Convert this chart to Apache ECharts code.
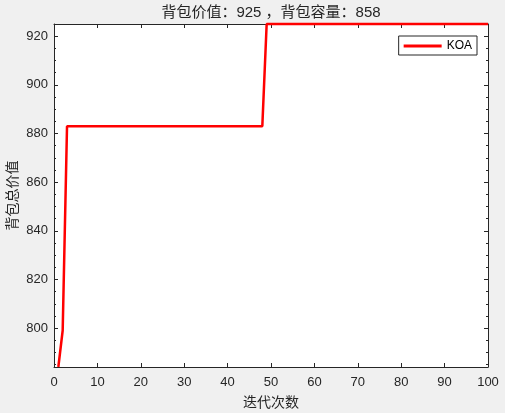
<!DOCTYPE html>
<html>
<head>
<meta charset="utf-8">
<script src="https://cdn.jsdelivr.net/npm/echarts@6/dist/echarts.min.js"></script>
<style>
html, body { margin: 0; padding: 0; background: #f0f0f0; }
#chart { width: 505px; height: 413px; }
</style>
</head>
<body>
<div id="chart"></div>
<script>
const titleText = '背包价值：925 ，背包容量：858';
const seriesName = 'KOA';
const xName = '迭代次数';
const yName = '背包总价值';

// best value per iteration (iterations 1..100)
const fitness = [
  784, 799, 883, 883, 883, 883, 883, 883, 883, 883,
  883, 883, 883, 883, 883, 883, 883, 883, 883, 883,
  883, 883, 883, 883, 883, 883, 883, 883, 883, 883,
  883, 883, 883, 883, 883, 883, 883, 883, 883, 883,
  883, 883, 883, 883, 883, 883, 883, 883, 925, 925,
  925, 925, 925, 925, 925, 925, 925, 925, 925, 925,
  925, 925, 925, 925, 925, 925, 925, 925, 925, 925,
  925, 925, 925, 925, 925, 925, 925, 925, 925, 925,
  925, 925, 925, 925, 925, 925, 925, 925, 925, 925,
  925, 925, 925, 925, 925, 925, 925, 925, 925, 925
];

const yTicks = [800, 820, 840, 860, 880, 900, 920];
const yMinorTicks = [785, 790, 795, 805, 810, 815, 825, 830, 835, 845, 850, 855,
  865, 870, 875, 885, 890, 895, 905, 910, 915];
const yMin = 784;
const yMax = 925;

const ink = '#262626';
const font = "'Liberation Sans', 'Noto Sans CJK SC', sans-serif";

function xAxisOf(pos, labels) {
  return {
    type: 'value', position: pos, min: 0, max: 100, interval: 10,
    axisLine: { show: true, lineStyle: { color: ink, width: 1 } },
    axisTick: { show: true, inside: true, length: 4, lineStyle: { color: ink } },
    axisLabel: { show: labels, margin: 9, color: ink, fontSize: 13, fontFamily: font },
    splitLine: { show: false }
  };
}

function yAxisOf(pos, ticks, len, line, labels) {
  return {
    type: 'value', position: pos, min: yMin, max: yMax,
    axisLine: { show: line, lineStyle: { color: ink, width: 1 } },
    axisTick: { show: true, inside: true, length: len, customValues: ticks, lineStyle: { color: ink } },
    axisLabel: { show: labels, customValues: yTicks, margin: 6, color: ink, fontSize: 13, fontFamily: font },
    splitLine: { show: false }
  };
}

const xBottom = xAxisOf('bottom', true);
xBottom.name = xName;
xBottom.nameLocation = 'middle';
xBottom.nameGap = 29;
xBottom.nameMoveOverlap = false;
xBottom.nameTextStyle = { color: ink, fontSize: 14, fontFamily: font };

const yLeft = yAxisOf('left', yTicks, 4, true, true);
yLeft.name = yName;
yLeft.nameLocation = 'middle';
yLeft.nameGap = 34;
yLeft.nameMoveOverlap = false;
yLeft.nameTextStyle = { color: ink, fontSize: 14, fontFamily: font };

const chart = echarts.init(document.getElementById('chart'));
chart.setOption({
  backgroundColor: '#f0f0f0',
  animation: false,
  title: {
    text: titleText, left: 271, top: 5, textAlign: 'center', padding: 0,
    textStyle: { color: ink, fontSize: 15, fontWeight: 'normal', fontFamily: font }
  },
  legend: {
    data: [{ name: seriesName, icon: 'rect' }],
    right: 28, top: 36,
    itemWidth: 38, itemHeight: 3, itemGap: 4,
    padding: [4, 5, 3, 5],
    backgroundColor: '#ffffff', borderColor: ink, borderWidth: 1, borderRadius: 0,
    textStyle: { color: '#000', fontSize: 12, fontFamily: font }
  },
  grid: {
    left: 54, right: 17, top: 24, bottom: 46,
    outerBoundsMode: 'none', containLabel: false,
    show: true, backgroundColor: '#ffffff', borderWidth: 0
  },
  xAxis: [xBottom, xAxisOf('top', false)],
  yAxis: [
    yLeft,
    yAxisOf('left', yMinorTicks, 2, false, false),
    yAxisOf('right', yTicks, 4, true, false),
    yAxisOf('right', yMinorTicks, 2, false, false)
  ],
  series: [{
    name: seriesName, type: 'line', xAxisIndex: 0, yAxisIndex: 0,
    data: fitness.map((v, i) => [i + 1, v]),
    showSymbol: false, clip: false,
    lineStyle: { color: '#ff0000', width: 2.5 },
    itemStyle: { color: '#ff0000' }
  }]
});
</script>
</body>
</html>
